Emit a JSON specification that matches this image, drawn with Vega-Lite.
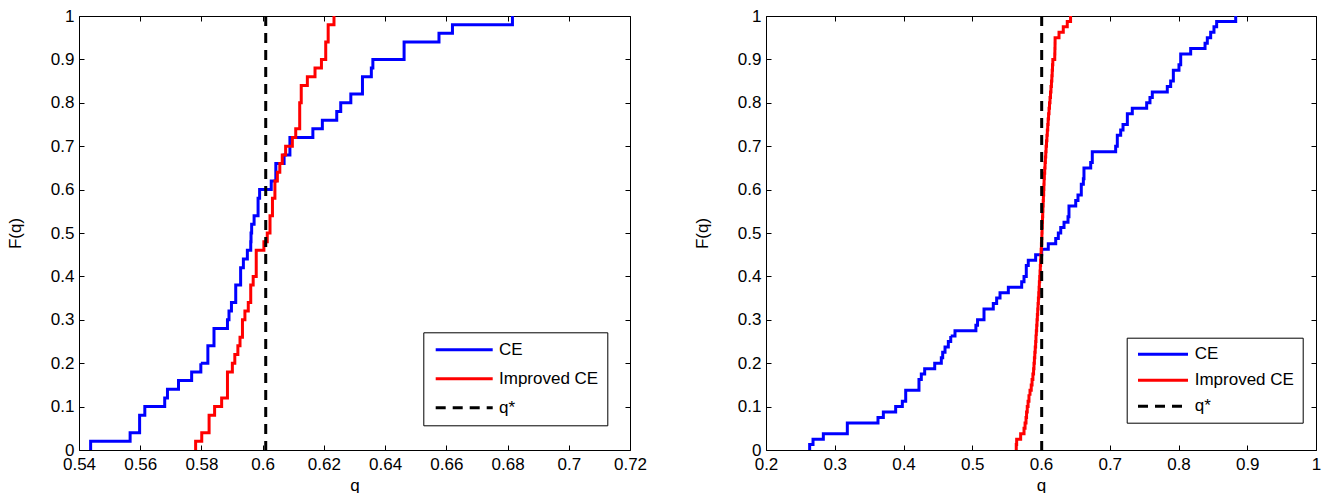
{
  "$schema": "https://vega.github.io/schema/vega-lite/v6.json",
  "padding": {"left": 6, "top": 7, "right": 8, "bottom": 0},
  "bounds": "flush",
  "spacing": 136,
  "config": {
    "font": "Liberation Sans",
    "view": {"stroke": null},
    "axis": {
      "domainColor": "black", "domainWidth": 1, "tickColor": "black", "tickSize": -5, "tickWidth": 1,
      "labelFont": "Liberation Sans", "labelFontSize": 17, "labelColor": "black",
      "titleFont": "Liberation Sans", "titleFontSize": 17, "titleFontWeight": "normal", "titleColor": "black",
      "grid": false, "labelFlush": false, "labelOverlap": false
    },
    "axisX": {"labelPadding": 11, "titlePadding": 5},
    "axisY": {"labelPadding": 10, "titlePadding": 26},
    "legend": {"labelFont": "Liberation Sans", "labelFontSize": 17, "labelColor": "black"}
  },
  "resolve": {
    "scale": {"color": "independent", "strokeDash": "independent"},
    "legend": {"color": "independent", "strokeDash": "independent"}
  },
  "datasets": {
    "ecdf": [
      {"panel":"a","series":"CE","q":0.5438,"F":0},
      {"panel":"a","series":"CE","q":0.5438,"F":0.02},
      {"panel":"a","series":"CE","q":0.5567,"F":0.04},
      {"panel":"a","series":"CE","q":0.5598,"F":0.06},
      {"panel":"a","series":"CE","q":0.5598,"F":0.08},
      {"panel":"a","series":"CE","q":0.5615,"F":0.10},
      {"panel":"a","series":"CE","q":0.5680,"F":0.12},
      {"panel":"a","series":"CE","q":0.5689,"F":0.14},
      {"panel":"a","series":"CE","q":0.5725,"F":0.16},
      {"panel":"a","series":"CE","q":0.5768,"F":0.18},
      {"panel":"a","series":"CE","q":0.5798,"F":0.20},
      {"panel":"a","series":"CE","q":0.5821,"F":0.22},
      {"panel":"a","series":"CE","q":0.5821,"F":0.24},
      {"panel":"a","series":"CE","q":0.5841,"F":0.26},
      {"panel":"a","series":"CE","q":0.5841,"F":0.28},
      {"panel":"a","series":"CE","q":0.5885,"F":0.30},
      {"panel":"a","series":"CE","q":0.5890,"F":0.32},
      {"panel":"a","series":"CE","q":0.5898,"F":0.34},
      {"panel":"a","series":"CE","q":0.5912,"F":0.36},
      {"panel":"a","series":"CE","q":0.5912,"F":0.38},
      {"panel":"a","series":"CE","q":0.5928,"F":0.40},
      {"panel":"a","series":"CE","q":0.5928,"F":0.42},
      {"panel":"a","series":"CE","q":0.5937,"F":0.44},
      {"panel":"a","series":"CE","q":0.5950,"F":0.46},
      {"panel":"a","series":"CE","q":0.5961,"F":0.48},
      {"panel":"a","series":"CE","q":0.5962,"F":0.50},
      {"panel":"a","series":"CE","q":0.5964,"F":0.52},
      {"panel":"a","series":"CE","q":0.5972,"F":0.54},
      {"panel":"a","series":"CE","q":0.5985,"F":0.56},
      {"panel":"a","series":"CE","q":0.5985,"F":0.58},
      {"panel":"a","series":"CE","q":0.5990,"F":0.60},
      {"panel":"a","series":"CE","q":0.6028,"F":0.62},
      {"panel":"a","series":"CE","q":0.6043,"F":0.64},
      {"panel":"a","series":"CE","q":0.6043,"F":0.66},
      {"panel":"a","series":"CE","q":0.6070,"F":0.68},
      {"panel":"a","series":"CE","q":0.6089,"F":0.70},
      {"panel":"a","series":"CE","q":0.6089,"F":0.72},
      {"panel":"a","series":"CE","q":0.6164,"F":0.74},
      {"panel":"a","series":"CE","q":0.6195,"F":0.76},
      {"panel":"a","series":"CE","q":0.6242,"F":0.78},
      {"panel":"a","series":"CE","q":0.6255,"F":0.80},
      {"panel":"a","series":"CE","q":0.6288,"F":0.82},
      {"panel":"a","series":"CE","q":0.6326,"F":0.84},
      {"panel":"a","series":"CE","q":0.6326,"F":0.86},
      {"panel":"a","series":"CE","q":0.6355,"F":0.88},
      {"panel":"a","series":"CE","q":0.6360,"F":0.90},
      {"panel":"a","series":"CE","q":0.6462,"F":0.92},
      {"panel":"a","series":"CE","q":0.6462,"F":0.94},
      {"panel":"a","series":"CE","q":0.6576,"F":0.96},
      {"panel":"a","series":"CE","q":0.6620,"F":0.98},
      {"panel":"a","series":"CE","q":0.6816,"F":1.00},
      {"panel":"a","series":"Improved CE","q":0.5781,"F":0},
      {"panel":"a","series":"Improved CE","q":0.5781,"F":0.02},
      {"panel":"a","series":"Improved CE","q":0.5801,"F":0.04},
      {"panel":"a","series":"Improved CE","q":0.5825,"F":0.06},
      {"panel":"a","series":"Improved CE","q":0.5825,"F":0.08},
      {"panel":"a","series":"Improved CE","q":0.5843,"F":0.10},
      {"panel":"a","series":"Improved CE","q":0.5866,"F":0.12},
      {"panel":"a","series":"Improved CE","q":0.5885,"F":0.14},
      {"panel":"a","series":"Improved CE","q":0.5885,"F":0.16},
      {"panel":"a","series":"Improved CE","q":0.5885,"F":0.18},
      {"panel":"a","series":"Improved CE","q":0.5901,"F":0.20},
      {"panel":"a","series":"Improved CE","q":0.5909,"F":0.22},
      {"panel":"a","series":"Improved CE","q":0.5919,"F":0.24},
      {"panel":"a","series":"Improved CE","q":0.5926,"F":0.26},
      {"panel":"a","series":"Improved CE","q":0.5934,"F":0.28},
      {"panel":"a","series":"Improved CE","q":0.5934,"F":0.30},
      {"panel":"a","series":"Improved CE","q":0.5942,"F":0.32},
      {"panel":"a","series":"Improved CE","q":0.5953,"F":0.34},
      {"panel":"a","series":"Improved CE","q":0.5961,"F":0.36},
      {"panel":"a","series":"Improved CE","q":0.5961,"F":0.38},
      {"panel":"a","series":"Improved CE","q":0.5969,"F":0.40},
      {"panel":"a","series":"Improved CE","q":0.5979,"F":0.42},
      {"panel":"a","series":"Improved CE","q":0.5979,"F":0.44},
      {"panel":"a","series":"Improved CE","q":0.5979,"F":0.46},
      {"panel":"a","series":"Improved CE","q":0.6004,"F":0.48},
      {"panel":"a","series":"Improved CE","q":0.6015,"F":0.50},
      {"panel":"a","series":"Improved CE","q":0.6024,"F":0.52},
      {"panel":"a","series":"Improved CE","q":0.6024,"F":0.54},
      {"panel":"a","series":"Improved CE","q":0.6032,"F":0.56},
      {"panel":"a","series":"Improved CE","q":0.6032,"F":0.58},
      {"panel":"a","series":"Improved CE","q":0.6040,"F":0.60},
      {"panel":"a","series":"Improved CE","q":0.6040,"F":0.62},
      {"panel":"a","series":"Improved CE","q":0.6048,"F":0.64},
      {"panel":"a","series":"Improved CE","q":0.6056,"F":0.66},
      {"panel":"a","series":"Improved CE","q":0.6064,"F":0.68},
      {"panel":"a","series":"Improved CE","q":0.6075,"F":0.70},
      {"panel":"a","series":"Improved CE","q":0.6097,"F":0.72},
      {"panel":"a","series":"Improved CE","q":0.6108,"F":0.74},
      {"panel":"a","series":"Improved CE","q":0.6121,"F":0.76},
      {"panel":"a","series":"Improved CE","q":0.6121,"F":0.78},
      {"panel":"a","series":"Improved CE","q":0.6121,"F":0.80},
      {"panel":"a","series":"Improved CE","q":0.6126,"F":0.82},
      {"panel":"a","series":"Improved CE","q":0.6126,"F":0.84},
      {"panel":"a","series":"Improved CE","q":0.6146,"F":0.86},
      {"panel":"a","series":"Improved CE","q":0.6171,"F":0.88},
      {"panel":"a","series":"Improved CE","q":0.6192,"F":0.90},
      {"panel":"a","series":"Improved CE","q":0.6206,"F":0.92},
      {"panel":"a","series":"Improved CE","q":0.6206,"F":0.94},
      {"panel":"a","series":"Improved CE","q":0.6214,"F":0.96},
      {"panel":"a","series":"Improved CE","q":0.6214,"F":0.98},
      {"panel":"a","series":"Improved CE","q":0.6233,"F":1.00},
      {"panel":"b","series":"CE","q":0.2635,"F":0},
      {"panel":"b","series":"CE","q":0.2635,"F":0.0125},
      {"panel":"b","series":"CE","q":0.2684,"F":0.025},
      {"panel":"b","series":"CE","q":0.2834,"F":0.0375},
      {"panel":"b","series":"CE","q":0.3183,"F":0.05},
      {"panel":"b","series":"CE","q":0.3183,"F":0.0625},
      {"panel":"b","series":"CE","q":0.3629,"F":0.075},
      {"panel":"b","series":"CE","q":0.3707,"F":0.0875},
      {"panel":"b","series":"CE","q":0.3886,"F":0.1},
      {"panel":"b","series":"CE","q":0.3983,"F":0.1125},
      {"panel":"b","series":"CE","q":0.4032,"F":0.125},
      {"panel":"b","series":"CE","q":0.4032,"F":0.1375},
      {"panel":"b","series":"CE","q":0.4225,"F":0.15},
      {"panel":"b","series":"CE","q":0.4225,"F":0.1625},
      {"panel":"b","series":"CE","q":0.4259,"F":0.175},
      {"panel":"b","series":"CE","q":0.4308,"F":0.1875},
      {"panel":"b","series":"CE","q":0.4454,"F":0.2},
      {"panel":"b","series":"CE","q":0.4550,"F":0.2125},
      {"panel":"b","series":"CE","q":0.4570,"F":0.225},
      {"panel":"b","series":"CE","q":0.4604,"F":0.2375},
      {"panel":"b","series":"CE","q":0.4652,"F":0.25},
      {"panel":"b","series":"CE","q":0.4687,"F":0.2625},
      {"panel":"b","series":"CE","q":0.4749,"F":0.275},
      {"panel":"b","series":"CE","q":0.5053,"F":0.2875},
      {"panel":"b","series":"CE","q":0.5077,"F":0.3},
      {"panel":"b","series":"CE","q":0.5171,"F":0.3125},
      {"panel":"b","series":"CE","q":0.5171,"F":0.325},
      {"panel":"b","series":"CE","q":0.5306,"F":0.3375},
      {"panel":"b","series":"CE","q":0.5355,"F":0.35},
      {"panel":"b","series":"CE","q":0.5404,"F":0.3625},
      {"panel":"b","series":"CE","q":0.5525,"F":0.375},
      {"panel":"b","series":"CE","q":0.5719,"F":0.3875},
      {"panel":"b","series":"CE","q":0.5753,"F":0.4},
      {"panel":"b","series":"CE","q":0.5786,"F":0.4125},
      {"panel":"b","series":"CE","q":0.5786,"F":0.425},
      {"panel":"b","series":"CE","q":0.5815,"F":0.4375},
      {"panel":"b","series":"CE","q":0.5922,"F":0.45},
      {"panel":"b","series":"CE","q":0.6010,"F":0.4625},
      {"panel":"b","series":"CE","q":0.6106,"F":0.475},
      {"panel":"b","series":"CE","q":0.6214,"F":0.4875},
      {"panel":"b","series":"CE","q":0.6252,"F":0.5},
      {"panel":"b","series":"CE","q":0.6287,"F":0.5125},
      {"panel":"b","series":"CE","q":0.6335,"F":0.525},
      {"panel":"b","series":"CE","q":0.6393,"F":0.5375},
      {"panel":"b","series":"CE","q":0.6407,"F":0.55},
      {"panel":"b","series":"CE","q":0.6407,"F":0.5625},
      {"panel":"b","series":"CE","q":0.6505,"F":0.575},
      {"panel":"b","series":"CE","q":0.6538,"F":0.5875},
      {"panel":"b","series":"CE","q":0.6586,"F":0.6},
      {"panel":"b","series":"CE","q":0.6586,"F":0.6125},
      {"panel":"b","series":"CE","q":0.6616,"F":0.625},
      {"panel":"b","series":"CE","q":0.6625,"F":0.6375},
      {"panel":"b","series":"CE","q":0.6625,"F":0.65},
      {"panel":"b","series":"CE","q":0.6723,"F":0.6625},
      {"panel":"b","series":"CE","q":0.6746,"F":0.675},
      {"panel":"b","series":"CE","q":0.6746,"F":0.6875},
      {"panel":"b","series":"CE","q":0.7086,"F":0.7},
      {"panel":"b","series":"CE","q":0.7110,"F":0.7125},
      {"panel":"b","series":"CE","q":0.7110,"F":0.725},
      {"panel":"b","series":"CE","q":0.7159,"F":0.7375},
      {"panel":"b","series":"CE","q":0.7193,"F":0.75},
      {"panel":"b","series":"CE","q":0.7256,"F":0.7625},
      {"panel":"b","series":"CE","q":0.7256,"F":0.775},
      {"panel":"b","series":"CE","q":0.7328,"F":0.7875},
      {"panel":"b","series":"CE","q":0.7537,"F":0.8},
      {"panel":"b","series":"CE","q":0.7585,"F":0.8125},
      {"panel":"b","series":"CE","q":0.7619,"F":0.825},
      {"panel":"b","series":"CE","q":0.7837,"F":0.8375},
      {"panel":"b","series":"CE","q":0.7886,"F":0.85},
      {"panel":"b","series":"CE","q":0.7925,"F":0.8625},
      {"panel":"b","series":"CE","q":0.7925,"F":0.875},
      {"panel":"b","series":"CE","q":0.8007,"F":0.8875},
      {"panel":"b","series":"CE","q":0.8032,"F":0.9},
      {"panel":"b","series":"CE","q":0.8032,"F":0.9125},
      {"panel":"b","series":"CE","q":0.8177,"F":0.925},
      {"panel":"b","series":"CE","q":0.8386,"F":0.9375},
      {"panel":"b","series":"CE","q":0.8419,"F":0.95},
      {"panel":"b","series":"CE","q":0.8468,"F":0.9625},
      {"panel":"b","series":"CE","q":0.8516,"F":0.975},
      {"panel":"b","series":"CE","q":0.8555,"F":0.9875},
      {"panel":"b","series":"CE","q":0.8832,"F":1.0},
      {"panel":"b","series":"Improved CE","q":0.5640,"F":0},
      {"panel":"b","series":"Improved CE","q":0.5640,"F":0.0125},
      {"panel":"b","series":"Improved CE","q":0.5646,"F":0.025},
      {"panel":"b","series":"Improved CE","q":0.5704,"F":0.0375},
      {"panel":"b","series":"Improved CE","q":0.5753,"F":0.05},
      {"panel":"b","series":"Improved CE","q":0.5768,"F":0.0625},
      {"panel":"b","series":"Improved CE","q":0.5782,"F":0.075},
      {"panel":"b","series":"Improved CE","q":0.5790,"F":0.0875},
      {"panel":"b","series":"Improved CE","q":0.5800,"F":0.1},
      {"panel":"b","series":"Improved CE","q":0.5812,"F":0.1125},
      {"panel":"b","series":"Improved CE","q":0.5825,"F":0.125},
      {"panel":"b","series":"Improved CE","q":0.5840,"F":0.1375},
      {"panel":"b","series":"Improved CE","q":0.5858,"F":0.15},
      {"panel":"b","series":"Improved CE","q":0.5870,"F":0.1625},
      {"panel":"b","series":"Improved CE","q":0.5882,"F":0.175},
      {"panel":"b","series":"Improved CE","q":0.5892,"F":0.1875},
      {"panel":"b","series":"Improved CE","q":0.5898,"F":0.2},
      {"panel":"b","series":"Improved CE","q":0.5904,"F":0.2125},
      {"panel":"b","series":"Improved CE","q":0.5910,"F":0.225},
      {"panel":"b","series":"Improved CE","q":0.5916,"F":0.2375},
      {"panel":"b","series":"Improved CE","q":0.5922,"F":0.25},
      {"panel":"b","series":"Improved CE","q":0.5927,"F":0.2625},
      {"panel":"b","series":"Improved CE","q":0.5932,"F":0.275},
      {"panel":"b","series":"Improved CE","q":0.5937,"F":0.2875},
      {"panel":"b","series":"Improved CE","q":0.5942,"F":0.3},
      {"panel":"b","series":"Improved CE","q":0.5947,"F":0.3125},
      {"panel":"b","series":"Improved CE","q":0.5952,"F":0.325},
      {"panel":"b","series":"Improved CE","q":0.5957,"F":0.3375},
      {"panel":"b","series":"Improved CE","q":0.5962,"F":0.35},
      {"panel":"b","series":"Improved CE","q":0.5967,"F":0.3625},
      {"panel":"b","series":"Improved CE","q":0.5972,"F":0.375},
      {"panel":"b","series":"Improved CE","q":0.5976,"F":0.3875},
      {"panel":"b","series":"Improved CE","q":0.5981,"F":0.4},
      {"panel":"b","series":"Improved CE","q":0.5986,"F":0.4125},
      {"panel":"b","series":"Improved CE","q":0.5990,"F":0.425},
      {"panel":"b","series":"Improved CE","q":0.5994,"F":0.4375},
      {"panel":"b","series":"Improved CE","q":0.5998,"F":0.45},
      {"panel":"b","series":"Improved CE","q":0.6002,"F":0.4625},
      {"panel":"b","series":"Improved CE","q":0.6006,"F":0.475},
      {"panel":"b","series":"Improved CE","q":0.6010,"F":0.4875},
      {"panel":"b","series":"Improved CE","q":0.6013,"F":0.5},
      {"panel":"b","series":"Improved CE","q":0.6016,"F":0.5125},
      {"panel":"b","series":"Improved CE","q":0.6019,"F":0.525},
      {"panel":"b","series":"Improved CE","q":0.6022,"F":0.5375},
      {"panel":"b","series":"Improved CE","q":0.6025,"F":0.55},
      {"panel":"b","series":"Improved CE","q":0.6028,"F":0.5625},
      {"panel":"b","series":"Improved CE","q":0.6032,"F":0.575},
      {"panel":"b","series":"Improved CE","q":0.6035,"F":0.5875},
      {"panel":"b","series":"Improved CE","q":0.6039,"F":0.6},
      {"panel":"b","series":"Improved CE","q":0.6042,"F":0.6125},
      {"panel":"b","series":"Improved CE","q":0.6045,"F":0.625},
      {"panel":"b","series":"Improved CE","q":0.6049,"F":0.6375},
      {"panel":"b","series":"Improved CE","q":0.6054,"F":0.65},
      {"panel":"b","series":"Improved CE","q":0.6059,"F":0.6625},
      {"panel":"b","series":"Improved CE","q":0.6064,"F":0.675},
      {"panel":"b","series":"Improved CE","q":0.6069,"F":0.6875},
      {"panel":"b","series":"Improved CE","q":0.6074,"F":0.7},
      {"panel":"b","series":"Improved CE","q":0.6080,"F":0.7125},
      {"panel":"b","series":"Improved CE","q":0.6086,"F":0.725},
      {"panel":"b","series":"Improved CE","q":0.6092,"F":0.7375},
      {"panel":"b","series":"Improved CE","q":0.6098,"F":0.75},
      {"panel":"b","series":"Improved CE","q":0.6104,"F":0.7625},
      {"panel":"b","series":"Improved CE","q":0.6110,"F":0.775},
      {"panel":"b","series":"Improved CE","q":0.6117,"F":0.7875},
      {"panel":"b","series":"Improved CE","q":0.6124,"F":0.8},
      {"panel":"b","series":"Improved CE","q":0.6131,"F":0.8125},
      {"panel":"b","series":"Improved CE","q":0.6138,"F":0.825},
      {"panel":"b","series":"Improved CE","q":0.6145,"F":0.8375},
      {"panel":"b","series":"Improved CE","q":0.6152,"F":0.85},
      {"panel":"b","series":"Improved CE","q":0.6158,"F":0.8625},
      {"panel":"b","series":"Improved CE","q":0.6163,"F":0.875},
      {"panel":"b","series":"Improved CE","q":0.6167,"F":0.8875},
      {"panel":"b","series":"Improved CE","q":0.6172,"F":0.9},
      {"panel":"b","series":"Improved CE","q":0.6200,"F":0.9125},
      {"panel":"b","series":"Improved CE","q":0.6202,"F":0.925},
      {"panel":"b","series":"Improved CE","q":0.6204,"F":0.9375},
      {"panel":"b","series":"Improved CE","q":0.6205,"F":0.95},
      {"panel":"b","series":"Improved CE","q":0.6262,"F":0.9625},
      {"panel":"b","series":"Improved CE","q":0.6324,"F":0.975},
      {"panel":"b","series":"Improved CE","q":0.6382,"F":0.9875},
      {"panel":"b","series":"Improved CE","q":0.6430,"F":1.0}
    ],
    "qstar": [
      {"panel":"a","series":"q*","q":0.601},
      {"panel":"b","series":"q*","q":0.601}
    ]
  },
  "hconcat": [
    {
      "width": 551, "height": 434,
      "layer": [
        {
          "data": {"name": "ecdf"},
          "transform": [{"filter": "datum.panel === 'a'"}],
          "mark": {"type": "line", "interpolate": "step-after", "strokeWidth": 3, "clip": true},
          "encoding": {
            "x": {"field": "q", "type": "quantitative", "scale": {"domain": [0.54, 0.72], "nice": false, "zero": false},
                  "axis": {"orient": "bottom", "values": [0.54,0.56,0.58,0.6,0.62,0.64,0.66,0.68,0.7,0.72], "format": "~g", "title": "q"}},
            "y": {"field": "F", "type": "quantitative", "scale": {"domain": [0, 1], "nice": false},
                  "axis": {"orient": "left", "values": [0,0.1,0.2,0.3,0.4,0.5,0.6,0.7,0.8,0.9,1], "format": "~g", "title": "F(q)"}},
            "order": {"field": "F", "type": "quantitative"},
            "color": {"field": "series", "type": "nominal",
                      "scale": {"domain": ["CE", "Improved CE", "q*"], "range": ["#0000ff", "#ff0000", "#000000"]},
                      "legend": {"orient": "none", "legendX": 344.3, "legendY": 316.3, "title": null, "symbolType": "M-5,0H5", "symbolSize": 130, "symbolStrokeWidth": 3, "strokeColor": "black", "fillColor": "white", "padding": 9, "symbolOffset": 23.4, "labelOffset": 26.3, "rowPadding": 11, "labelLimit": 300}},
            "strokeDash": {"field": "series", "type": "nominal",
                      "scale": {"domain": ["CE", "Improved CE", "q*"], "range": [[1,0],[1,0],[10,7]]},
                      "legend": {"orient": "none", "legendX": 344.3, "legendY": 316.3, "title": null, "symbolType": "M-5,0H5", "symbolSize": 130, "symbolStrokeWidth": 3, "strokeColor": "black", "fillColor": "white", "padding": 9, "symbolOffset": 23.4, "labelOffset": 26.3, "rowPadding": 11, "labelLimit": 300}}
          }
        },
        {
          "data": {"name": "qstar"},
          "transform": [{"filter": "datum.panel === 'a'"}],
          "mark": {"type": "rule", "strokeWidth": 3},
          "encoding": {
            "x": {"field": "q", "type": "quantitative", "axis": null},
            "color": {"field": "series", "type": "nominal"},
            "strokeDash": {"field": "series", "type": "nominal"}
          }
        },
        {
          "data": {"name": "ecdf"},
          "transform": [{"filter": "datum.panel === 'a'"}],
          "mark": {"type": "point", "opacity": 0},
          "encoding": {
            "x": {"field": "q", "type": "quantitative", "axis": {"orient": "top", "values": [0.54,0.56,0.58,0.6,0.62,0.64,0.66,0.68,0.7,0.72], "labels": false, "title": null}},
            "y": {"field": "F", "type": "quantitative", "axis": {"orient": "right", "values": [0,0.1,0.2,0.3,0.4,0.5,0.6,0.7,0.8,0.9,1], "labels": false, "title": null}}
          }
        }
      ],
      "resolve": {"axis": {"x": "independent", "y": "independent"}}
    },
    {
      "width": 550, "height": 434,
      "layer": [
        {
          "data": {"name": "ecdf"},
          "transform": [{"filter": "datum.panel === 'b'"}],
          "mark": {"type": "line", "interpolate": "step-after", "strokeWidth": 3, "clip": true},
          "encoding": {
            "x": {"field": "q", "type": "quantitative", "scale": {"domain": [0.2, 1], "nice": false, "zero": false},
                  "axis": {"orient": "bottom", "values": [0.2,0.3,0.4,0.5,0.6,0.7,0.8,0.9,1], "format": "~g", "title": "q"}},
            "y": {"field": "F", "type": "quantitative", "scale": {"domain": [0, 1], "nice": false},
                  "axis": {"orient": "left", "values": [0,0.1,0.2,0.3,0.4,0.5,0.6,0.7,0.8,0.9,1], "format": "~g", "title": "F(q)"}},
            "order": {"field": "F", "type": "quantitative"},
            "color": {"field": "series", "type": "nominal",
                      "scale": {"domain": ["CE", "Improved CE", "q*"], "range": ["#0000ff", "#ff0000", "#000000"]},
                      "legend": {"orient": "none", "legendX": 360.7, "legendY": 321.7, "title": null, "symbolType": "M-5,0H5", "symbolSize": 100, "symbolStrokeWidth": 3, "strokeColor": "black", "fillColor": "white", "padding": 8, "symbolOffset": 19.8, "labelOffset": 23.2, "rowPadding": 8, "labelLimit": 300}},
            "strokeDash": {"field": "series", "type": "nominal",
                      "scale": {"domain": ["CE", "Improved CE", "q*"], "range": [[1,0],[1,0],[10,7]]},
                      "legend": {"orient": "none", "legendX": 360.7, "legendY": 321.7, "title": null, "symbolType": "M-5,0H5", "symbolSize": 100, "symbolStrokeWidth": 3, "strokeColor": "black", "fillColor": "white", "padding": 8, "symbolOffset": 19.8, "labelOffset": 23.2, "rowPadding": 8, "labelLimit": 300}}
          }
        },
        {
          "data": {"name": "qstar"},
          "transform": [{"filter": "datum.panel === 'b'"}],
          "mark": {"type": "rule", "strokeWidth": 3},
          "encoding": {
            "x": {"field": "q", "type": "quantitative", "axis": null},
            "color": {"field": "series", "type": "nominal"},
            "strokeDash": {"field": "series", "type": "nominal"}
          }
        },
        {
          "data": {"name": "ecdf"},
          "transform": [{"filter": "datum.panel === 'b'"}],
          "mark": {"type": "point", "opacity": 0},
          "encoding": {
            "x": {"field": "q", "type": "quantitative", "axis": {"orient": "top", "values": [0.2,0.3,0.4,0.5,0.6,0.7,0.8,0.9,1], "labels": false, "title": null}},
            "y": {"field": "F", "type": "quantitative", "axis": {"orient": "right", "values": [0,0.1,0.2,0.3,0.4,0.5,0.6,0.7,0.8,0.9,1], "labels": false, "title": null}}
          }
        }
      ],
      "resolve": {"axis": {"x": "independent", "y": "independent"}}
    }
  ]
}
